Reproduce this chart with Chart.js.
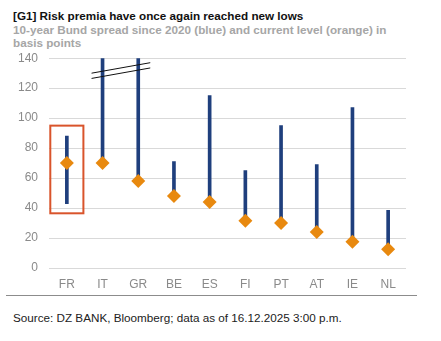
<!DOCTYPE html>
<html>
<head>
<meta charset="utf-8">
<script src="https://cdn.jsdelivr.net/npm/chart.js@4"></script>
<style>
  body { margin: 0; background: #fff; font-family: "Liberation Sans", Arial, sans-serif; }
  #wrap { position: relative; width: 441px; height: 341px; overflow: hidden; }
  .title { position: absolute; left: 13px; top: 9px; font-size: 11.7px; font-weight: bold; color: #111; }
  .subtitle { position: absolute; left: 13px; top: 23px; width: 410px; font-size: 11.7px; font-weight: bold; color: #a6a6a6; line-height: 13px; }
  #chartBox { position: absolute; left: 0; top: 40px; width: 441px; height: 254px; }
  .rule { position: absolute; left: 6px; top: 295px; width: 411px; border-top: 1px solid #8c8c8c; }
  .source { position: absolute; left: 13px; top: 311px; font-size: 11.7px; color: #222; }
</style>
</head>
<body>
<div id="wrap">
  <div class="title">[G1] Risk premia have once again reached new lows</div>
  <div class="subtitle">10-year Bund spread since 2020 (blue) and current level (orange) in<br>basis points</div>
  <div id="chartBox"><canvas id="chart"></canvas></div>
  <div class="rule"></div>
  <div class="source">Source: DZ BANK, Bloomberg; data as of 16.12.2025 3:00 p.m.</div>
</div>
<script>
// categories and values (basis points)
const countries = ['FR', 'IT', 'GR', 'BE', 'ES', 'FI', 'PT', 'AT', 'IE', 'NL'];
const rangeLow  = [43, 70, 58, 48, 44, 31.5, 30, 24, 17.5, 12.5];
const rangeHigh = [88, 250, 260, 71, 115, 65, 95, 69, 107, 38.5];
const current   = [70, 70, 58, 48, 44, 31.5, 30, 24, 17.5, 12.5];
const yTicks    = [0, 20, 40, 60, 80, 100, 120, 140];

// red frame around France and the axis-break mark above IT/GR
const extrasPlugin = {
  id: 'extras',
  afterDatasetsDraw(chart) {
    const { ctx, scales: { x, y } } = chart;
    ctx.save();
    // frame around FR
    const fx = x.getPixelForValue(0);
    const half = (x.getPixelForValue(1) - fx) / 2 - 1.3;
    ctx.strokeStyle = '#d9542b';
    ctx.lineWidth = 2;
    ctx.strokeRect(fx - half, y.getPixelForValue(95), half * 2, y.getPixelForValue(36.5) - y.getPixelForValue(95));
    // break lines
    const x1 = x.getPixelForValue(1) - 11;
    const x2 = x.getPixelForValue(2) + 12;
    ctx.strokeStyle = '#111';
    ctx.lineWidth = 1;
    [[130, 137], [126.5, 133.5]].forEach(([a, b]) => {
      ctx.beginPath();
      ctx.moveTo(x1, y.getPixelForValue(a));
      ctx.lineTo(x2, y.getPixelForValue(b));
      ctx.stroke();
    });
    ctx.restore();
  }
};

const font = { family: "'Liberation Sans', Arial, sans-serif", size: 12 };

new Chart(document.getElementById('chart'), {
  type: 'bar',
  data: {
    labels: countries,
    datasets: [
      {
        type: 'line',
        label: 'Current level',
        data: current,
        showLine: false,
        pointStyle: 'rectRot',
        pointRadius: 7,
        pointBackgroundColor: '#e8890f',
        pointBorderColor: '#e8890f',
        pointBorderWidth: 0,
        order: 0
      },
      {
        label: 'Range since 2020',
        data: rangeLow.map((lo, i) => [lo, rangeHigh[i]]),
        backgroundColor: '#1f3f7d',
        barThickness: 3,
        order: 1
      }
    ]
  },
  options: {
    responsive: true,
    maintainAspectRatio: false,
    animation: false,
    layout: { autoPadding: false, padding: { top: 0, right: 35, left: 0, bottom: 0 } },
    plugins: {
      legend: { display: false },
      tooltip: { enabled: false }
    },
    scales: {
      x: {
        afterFit: (axis) => { axis.height = 26; },
        grid: { display: false, drawTicks: false },
        border: { display: false },
        ticks: { font, color: '#8a8a8a', padding: 9 }
      },
      y: {
        min: 0,
        max: 140,
        afterBuildTicks: (axis) => { axis.ticks = yTicks.map(v => ({ value: v })); },
        afterFit: (axis) => { axis.width = 49; },
        grid: { color: '#d9d9d9', drawTicks: false },
        border: { display: false },
        ticks: { font, color: '#8a8a8a', padding: 11 }
      }
    }
  },
  plugins: [extrasPlugin]
});
</script>
</body>
</html>
